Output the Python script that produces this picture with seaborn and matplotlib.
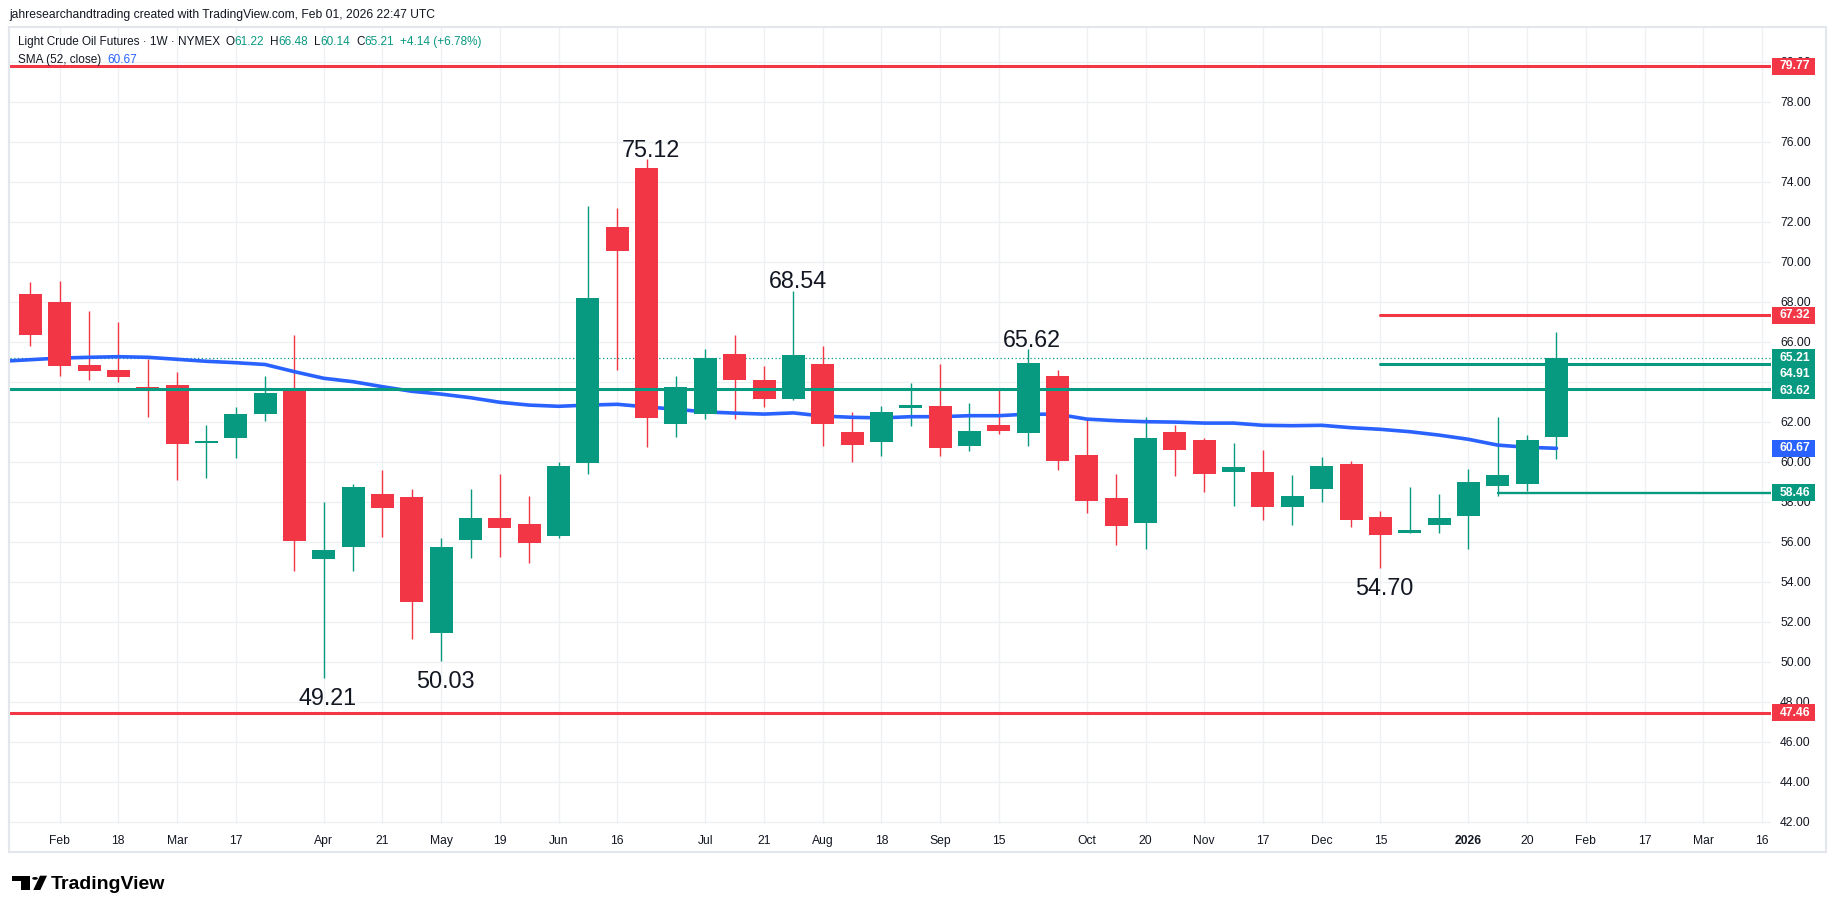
import numpy as np
import pandas as pd
import matplotlib
matplotlib.use("Agg")
import matplotlib.pyplot as plt
from matplotlib.patches import Rectangle, Polygon, Circle
import seaborn as sns

# Set plot theme
sns.set_theme(style="white")
plt.rcParams['font.family'] = ['Liberation Sans', 'DejaVu Sans']

# Weekly OHLC, Light Crude Oil Futures (NYMEX), week of 27 Jan 2025 .. 26 Jan 2026
opens = [68.38, 67.98, 64.83, 64.58, 63.72, 63.83, 60.95, 61.20, 62.40, 63.52,
         55.15, 55.75, 58.38, 58.23, 51.45, 56.10, 57.19, 56.88, 56.26, 59.95,
         71.73, 74.68, 61.86, 62.40, 65.38, 64.08, 63.16, 64.88, 61.48, 61.00,
         62.70, 62.78, 60.80, 61.83, 61.45, 64.28, 60.33, 58.18, 56.95, 61.48,
         61.08, 59.50, 59.50, 57.75, 58.65, 59.88, 57.23, 56.45, 56.85, 57.30,
         58.80, 58.90, 61.22]
highs = [68.98, 69.03, 67.53, 66.98, 65.13, 64.47, 61.83, 62.73, 64.28, 66.33,
         57.98, 58.87, 59.58, 58.63, 56.18, 58.63, 59.39, 58.28, 60.00, 72.80,
         72.69, 75.12, 64.31, 65.63, 66.33, 64.79, 68.54, 65.78, 62.49, 62.78,
         63.93, 64.88, 62.93, 63.60, 65.62, 64.58, 62.13, 59.38, 62.23, 61.83,
         61.18, 60.93, 60.58, 59.33, 60.23, 60.03, 57.53, 58.73, 58.38, 59.63,
         62.25, 61.33, 66.48]
lows = [65.78, 64.28, 64.08, 64.00, 62.25, 59.08, 59.18, 60.18, 62.03, 54.55,
        49.21, 54.55, 56.25, 51.15, 50.03, 55.20, 55.26, 54.95, 56.20, 59.39,
        64.57, 60.75, 61.25, 62.15, 62.15, 62.74, 63.10, 60.81, 60.00, 60.29,
        61.80, 60.30, 60.55, 61.40, 60.80, 59.60, 57.45, 55.85, 55.65, 59.30,
        58.50, 57.80, 57.10, 56.85, 58.00, 56.75, 54.70, 56.45, 56.43, 55.65,
        58.30, 58.55, 60.14]
closes = [66.35, 64.80, 64.55, 64.25, 63.64, 60.90, 61.02, 62.38, 63.43, 56.05,
          55.58, 58.73, 57.70, 53.00, 55.73, 57.19, 56.70, 55.95, 59.80, 68.20,
          70.51, 62.20, 63.73, 65.17, 64.06, 63.16, 65.34, 61.86, 60.81, 62.49,
          62.83, 60.70, 61.53, 61.55, 64.93, 60.05, 58.05, 56.80, 61.18, 60.60,
          59.40, 59.73, 57.75, 58.28, 59.78, 57.10, 56.35, 56.57, 57.18, 58.98,
          59.33, 61.07, 65.21]

# SMA (52, close), from the week before the first candle to the last one
sma52 = [65.02, 65.10, 65.18, 65.22, 65.25, 65.22, 65.12, 65.02, 64.95, 64.86,
         64.50, 64.17, 64.00, 63.75, 63.52, 63.38, 63.20, 62.97, 62.83, 62.77,
         62.83, 62.87, 62.74, 62.62, 62.49, 62.43, 62.38, 62.44, 62.28, 62.22,
         62.19, 62.25, 62.25, 62.30, 62.30, 62.38, 62.37, 62.13, 62.05, 62.00,
         61.98, 61.93, 61.93, 61.82, 61.80, 61.82, 61.70, 61.62, 61.50, 61.33,
         61.12, 60.83, 60.72, 60.67]

# time axis labels (week index of each label)
tick_weeks = [1, 3, 5, 7, 10, 12, 14, 16, 18, 20, 23, 25, 27, 29, 31, 33, 36, 38,
              40, 42, 44, 46, 49, 51, 53, 55, 57, 59]
tick_labels = ['Feb', '18', 'Mar', '17', 'Apr', '21', 'May', '19', 'Jun', '16',
               'Jul', '21', 'Aug', '18', 'Sep', '15', 'Oct', '20', 'Nov', '17',
               'Dec', '15', '2026', '20', 'Feb', '17', 'Mar', '16']

# horizontal levels drawn on the chart (start week; None = whole chart)
level_values = [79.77, 67.32, 64.91, 63.62, 58.46, 47.46]
level_start = [None, 46, 46, None, 50, None]

# swing highs / lows that carry a price label
swing_weeks = [10, 14, 21, 26, 34, 46]
swing_kind = ['low', 'low', 'high', 'high', 'high', 'low']

# colours
RED = '#F23645'
GREEN = '#089981'
BLUE = '#2962FF'
TXT = '#131722'
GRID = '#eef0f3'
level_colors = [RED, RED, GREEN, GREEN, GREEN, RED]
level_widths = [2.2, 2.2, 2.2, 2.2, 1.7, 2.2]

W, H = 1835, 913


def fx(px):
    return px / W


def fy(py):
    return 1 - py / H


fig = plt.figure(figsize=(W / 100, H / 100), dpi=100)
fig.patch.set_facecolor('white')

ax_left, ax_right, ax_top, ax_bot = 10, 1771, 27, 824
ax = fig.add_axes([fx(ax_left), fy(ax_bot), fx(ax_right) - fx(ax_left), fy(ax_top) - fy(ax_bot)])
ax.set_facecolor('white')

weeks = np.arange(len(opens))
o = np.array(opens)
c = np.array(closes)
up = c >= o
colors = np.where(up, GREEN, RED)

# wicks and bodies
ax.vlines(weeks, lows, highs, colors=colors, lw=1.0, zorder=3)
body_low = np.minimum(o, c)
body_h = np.maximum(np.abs(c - o), 0.06)
ax.bar(weeks, body_h, bottom=body_low, width=0.784, color=colors, linewidth=0, zorder=4)

# 52 week SMA
sma_weeks = np.arange(-1, len(sma52) - 1)
sns.lineplot(x=sma_weeks, y=sma52, ax=ax, color=BLUE, lw=2.6, zorder=3.5)

# levels
x_min, x_max = -0.692, 59.31
for val, start, col, lw in zip(level_values, level_start, level_colors, level_widths):
    x0 = x_min if start is None else start
    ax.plot([x0, x_max], [val, val], color=col, lw=lw, solid_capstyle='round', zorder=5)

# last price dotted line
ax.plot([x_min, x_max], [closes[-1], closes[-1]], color=GREEN, lw=0.9,
        linestyle=(0, (1, 2)), zorder=2)

# swing labels
for wk, kind in zip(swing_weeks, swing_kind):
    if kind == 'high':
        ax.annotate(f"{highs[wk]:.2f}", (wk, highs[wk]), xytext=(3, 2),
                    textcoords='offset points', ha='center', va='baseline',
                    fontsize=16.8, color=TXT, zorder=6)
    else:
        ax.annotate(f"{lows[wk]:.2f}", (wk, lows[wk]), xytext=(3, -6.5),
                    textcoords='offset points', ha='center', va='top',
                    fontsize=16.8, color=TXT, zorder=6)

ax.set_xlim(x_min, x_max)
ax.set_ylim(41.885, 81.735)

# price boxes on the right scale (stacked so they never overlap)
box_h = 0.835
box_items = [(level_values[0], RED), (level_values[1], RED), (closes[-1], GREEN),
             (level_values[2], GREEN), (level_values[3], GREEN), (sma52[-1], BLUE),
             (level_values[4], GREEN), (level_values[5], RED)]
box_items.sort(key=lambda t: -t[0])
boxes = []
prev = None
for val, col in box_items:
    cy = val if prev is None else min(val, prev - box_h)
    prev = cy
    boxes.append((val, col, cy))


def covered(y):
    return any(cy - box_h / 2 <= y <= cy + box_h / 2 for _, _, cy in boxes)


# axes, ticks and grid; scale labels fully hidden under a price box are dropped
yt = np.arange(42, 81, 2)
half_txt = 0.22
ax.yaxis.tick_right()
ax.set_yticks(yt)
ax.set_yticklabels(['' if covered(v - half_txt) and covered(v + half_txt) else f"{v:.2f}"
                    for v in yt])
ax.set_xticks(tick_weeks)
ax.set_xticklabels(tick_labels)
ax.tick_params(axis='y', length=0, pad=6.5, labelsize=8.7, labelcolor=TXT)
ax.tick_params(axis='x', length=0, pad=7.7, labelsize=8.7, labelcolor=TXT)
for lab in ax.get_xticklabels():
    if lab.get_text() == '2026':
        lab.set_fontweight('bold')
ax.grid(True, color=GRID, lw=1.0, zorder=0)
ax.set_axisbelow(True)
for s in ax.spines.values():
    s.set_visible(False)
ax.set_xlabel('')
ax.set_ylabel('')

ytrans = ax.get_yaxis_transform()
for val, col, cy in boxes:
    ax.add_patch(Rectangle((1.0004, cy - box_h / 2), 0.0246, box_h, transform=ytrans,
                           facecolor=col, edgecolor='none', clip_on=False, zorder=8))
    ax.text(1.00511, cy, f"{val:.2f}", transform=ytrans, ha='left', va='center',
            fontsize=8.7, color='white', fontweight='bold', clip_on=False, zorder=9)

# chart frame
fig.add_artist(Rectangle((fx(9), fy(852)), fx(1826) - fx(9), fy(27) - fy(852),
                         transform=fig.transFigure, fill=False, ec='#e3e6eb', lw=1.5))

# header texts
fig.text(fx(9.6), fy(15), "jahresearchandtrading created with TradingView.com, Feb 01, 2026 22:47 UTC",
         ha='left', va='center', fontsize=8.7, color=TXT)

renderer = fig.canvas.get_renderer()
chg = closes[-1] - closes[-2]
pct = chg / closes[-2] * 100
segments = [("Light Crude Oil Futures · 1W · NYMEX", TXT, 5),
            ("O", TXT, 0), (f"{opens[-1]:.2f}", GREEN, 6),
            ("H", TXT, 0), (f"{highs[-1]:.2f}", GREEN, 6),
            ("L", TXT, 0), (f"{lows[-1]:.2f}", GREEN, 6),
            ("C", TXT, 0), (f"{closes[-1]:.2f}", GREEN, 6),
            (f"{chg:+.2f} ({pct:+.2f}%)", GREEN, 0)]
x = 18
for txt, col, gap in segments:
    t = fig.text(fx(x), fy(42.3), txt, ha='left', va='center', fontsize=8.5, color=col)
    bb = t.get_window_extent(renderer=renderer)
    x = bb.x1 + gap

t = fig.text(fx(18), fy(60), "SMA (52, close)", ha='left', va='center', fontsize=8.5, color=TXT)
bb = t.get_window_extent(renderer=renderer)
fig.text(fx(bb.x1 + 6), fy(60), f"{sma52[-1]:.2f}", ha='left', va='center', fontsize=8.5, color=BLUE)

# TradingView logo
logo_kw = dict(transform=fig.transFigure, facecolor='#000000', edgecolor='none')
fig.add_artist(Rectangle((fx(11.9), fy(880.7)), fx(29.7) - fx(11.9), fy(875.7) - fy(880.7), **logo_kw))
fig.add_artist(Rectangle((fx(20.8), fy(890)), fx(29.7) - fx(20.8), fy(875.7) - fy(890), **logo_kw))
fig.add_artist(Polygon([(fx(40.0), fy(875.7)), (fx(47.0), fy(875.7)),
                        (fx(40.3), fy(890)), (fx(33.3), fy(890))], **logo_kw))
fig.add_artist(Circle((fx(35.0), fy(878.4)), 2.8 / W, **logo_kw))
fig.text(fx(50.6), fy(888.5), "TradingView", ha='left', va='baseline', fontsize=14,
         fontweight='bold', color='#000000')

plt.savefig('out.png', dpi=100, facecolor='white')
